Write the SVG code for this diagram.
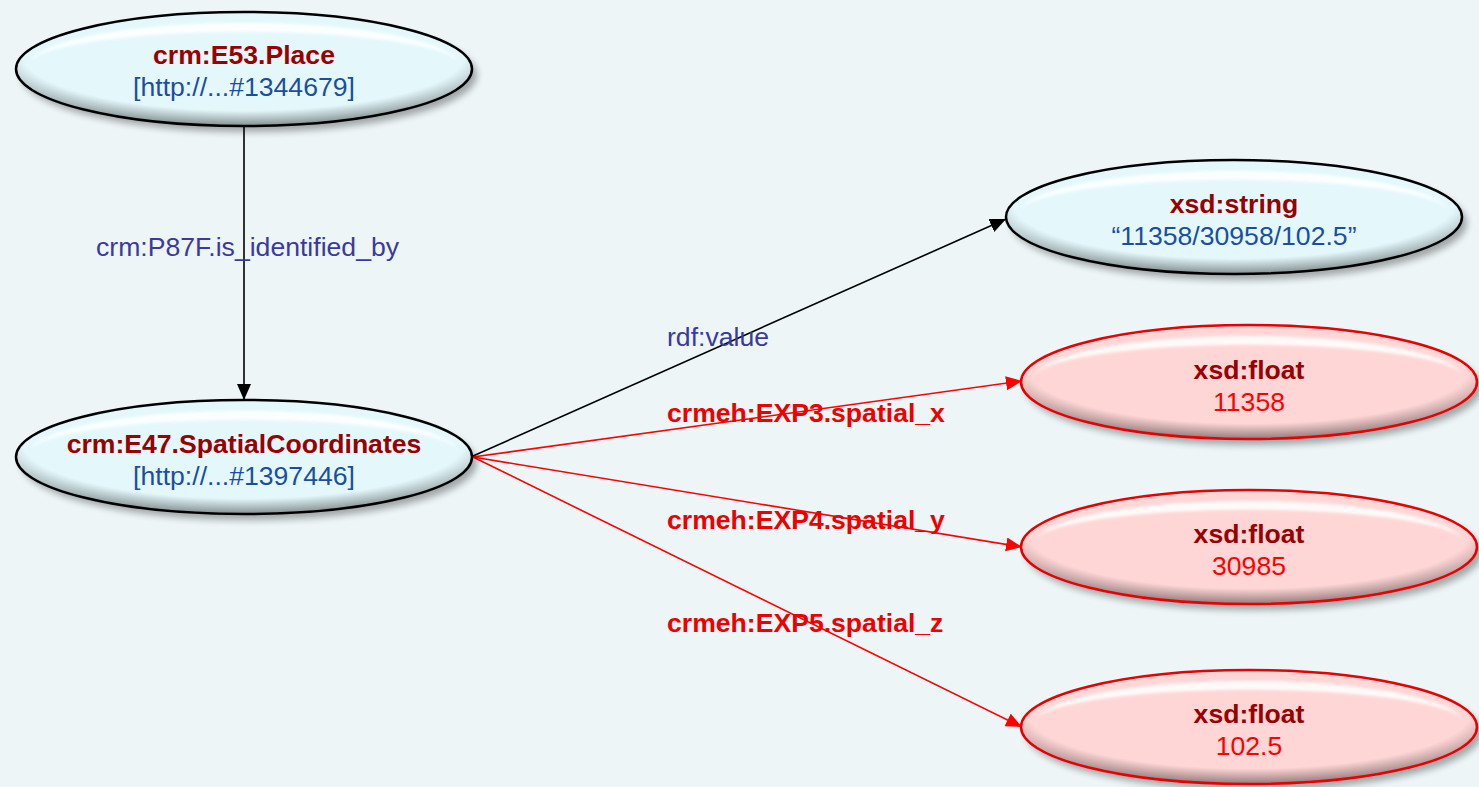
<svg xmlns="http://www.w3.org/2000/svg" xmlns:xlink="http://www.w3.org/1999/xlink" width="1479" height="787" viewBox="0 0 1479 787">
<defs>
<style>
text{font-family:"Liberation Sans",Arial,sans-serif;font-size:26.6px;text-anchor:middle}
.t{font-weight:bold;fill:#990000}
.u{fill:#1b4f9c}
.v{fill:#ff0000}
.el{font-family:"Liberation Sans",Arial,sans-serif;font-size:26.6px;text-anchor:start}
.lp{fill:#3a3a9c}
.lr{fill:#ee0000;font-weight:bold}
.bodyC{fill:#e4f8fc}
.bodyR{fill:#ffd6d6}
.edgeC{fill:none;stroke:#000;stroke-width:2.5}
.edgeR{fill:none;stroke:#e80000;stroke-width:2.5}
.shadow{fill:#000;opacity:.32;filter:url(#blur)}
.shade{fill:url(#shadeG)}
.hl{fill:#fff;opacity:.9;filter:url(#blurS)}
.cb{stroke:#000;stroke-width:1.6;fill:none}
.cr{stroke:#ff0000;stroke-width:1.6;fill:none}
</style>
<filter id="blur" x="-10%" y="-30%" width="120%" height="160%"><feGaussianBlur stdDeviation="3.5"/></filter>
<filter id="blurS" x="-10%" y="-50%" width="120%" height="200%"><feGaussianBlur stdDeviation="1.4"/></filter>
<radialGradient id="shadeG" cx="0.5" cy="0.38" r="0.62">
<stop offset="0" stop-color="#000" stop-opacity="0"/>
<stop offset="0.78" stop-color="#000" stop-opacity="0"/>
<stop offset="1" stop-color="#000" stop-opacity="0.42"/>
</radialGradient>
<ellipse id="shp" cx="0" cy="0" rx="228" ry="57"/>
<path id="hlp" d="M -214,-8 A 216 44 0 0 1 214,-8 A 216 34 0 0 0 -214,-8 Z"/>
<marker id="ab" markerUnits="userSpaceOnUse" markerWidth="18" markerHeight="16" refX="16" refY="7" orient="auto"><path d="M0,0 L16,7 L0,14 Z" fill="#000"/></marker>
<marker id="ar" markerUnits="userSpaceOnUse" markerWidth="18" markerHeight="16" refX="16" refY="7" orient="auto"><path d="M0,0 L16,7 L0,14 Z" fill="#ff0000"/></marker>
</defs>
<rect width="1479" height="787" fill="#edf5f7"/>

<g id="connectors">
<line class="cb" x1="244" y1="127" x2="244" y2="400" marker-end="url(#ab)"/>
<line class="cb" x1="473" y1="456" x2="1006" y2="219" marker-end="url(#ab)"/>
<line class="cr" x1="473" y1="457" x2="1022" y2="381" marker-end="url(#ar)"/>
<line class="cr" x1="473" y1="457" x2="1022" y2="547" marker-end="url(#ar)"/>
<line class="cr" x1="473" y1="457" x2="1022" y2="727" marker-end="url(#ar)"/>
</g>

<g id="n-e53" transform="translate(244,69)">
<use href="#shp" class="shadow" transform="translate(5,6)"/>
<use href="#shp" class="bodyC"/>
<use href="#shp" class="shade"/>
<use href="#hlp" class="hl"/>
<use href="#shp" class="edgeC"/>
<text class="t" x="0" y="-5">crm:E53.Place</text>
<text class="u" x="0" y="27">[http://...#1344679]</text>
</g>

<g id="n-e47" transform="translate(244,457)">
<use href="#shp" class="shadow" transform="translate(5,6)"/>
<use href="#shp" class="bodyC"/>
<use href="#shp" class="shade"/>
<use href="#hlp" class="hl"/>
<use href="#shp" class="edgeC"/>
<text class="t" x="0" y="-4">crm:E47.SpatialCoordinates</text>
<text class="u" x="0" y="28">[http://...#1397446]</text>
</g>

<g id="n-string" transform="translate(1234,217)">
<use href="#shp" class="shadow" transform="translate(5,6)"/>
<use href="#shp" class="bodyC"/>
<use href="#shp" class="shade"/>
<use href="#hlp" class="hl"/>
<use href="#shp" class="edgeC"/>
<text class="t" x="0" y="-4">xsd:string</text>
<text class="u" x="0" y="28">“11358/30958/102.5”</text>
</g>

<g id="n-float1" transform="translate(1249,382)">
<use href="#shp" class="shadow" transform="translate(5,6)"/>
<use href="#shp" class="bodyR"/>
<use href="#shp" class="shade"/>
<use href="#hlp" class="hl"/>
<use href="#shp" class="edgeR"/>
<text class="t" x="0" y="-3">xsd:float</text>
<text class="v" x="0" y="29">11358</text>
</g>

<g id="n-float2" transform="translate(1249,547)">
<use href="#shp" class="shadow" transform="translate(5,6)"/>
<use href="#shp" class="bodyR"/>
<use href="#shp" class="shade"/>
<use href="#hlp" class="hl"/>
<use href="#shp" class="edgeR"/>
<text class="t" x="0" y="-4">xsd:float</text>
<text class="v" x="0" y="28">30985</text>
</g>

<g id="n-float3" transform="translate(1249,727)">
<use href="#shp" class="shadow" transform="translate(5,6)"/>
<use href="#shp" class="bodyR"/>
<use href="#shp" class="shade"/>
<use href="#hlp" class="hl"/>
<use href="#shp" class="edgeR"/>
<text class="t" x="0" y="-4">xsd:float</text>
<text class="v" x="0" y="28">102.5</text>
</g>

<g id="edge-labels">
<text class="el lp" x="96" y="256">crm:P87F.is_identified_by</text>
<text class="el lp" x="667" y="346">rdf:value</text>
<text class="el lr" x="667" y="422">crmeh:EXP3.spatial_x</text>
<text class="el lr" x="667" y="529">crmeh:EXP4.spatial_y</text>
<text class="el lr" x="667" y="632">crmeh:EXP5.spatial_z</text>
</g>
</svg>
